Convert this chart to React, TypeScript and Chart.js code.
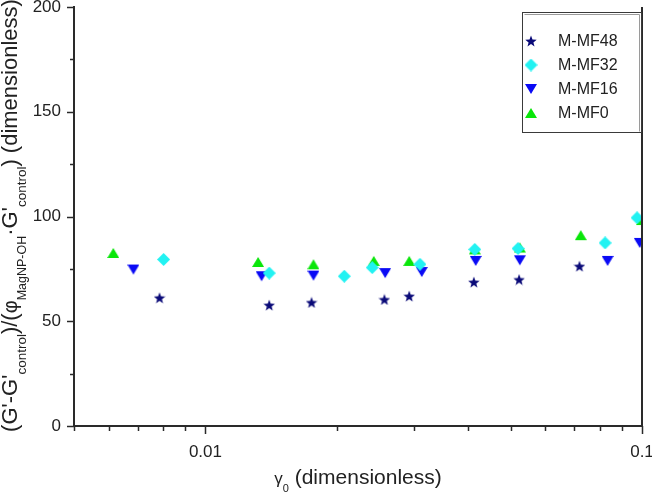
import React, { useEffect, useRef } from 'react';
import { Chart, registerables } from 'chart.js';

Chart.register(...registerables);

// ---------- data ----------
const seriesLabels = ['M-MF48', 'M-MF32', 'M-MF16', 'M-MF0'];

const mf48X = [0.00785, 0.014, 0.0175, 0.0257, 0.0293, 0.0412, 0.0523, 0.0719];
const mf48Y = [61.2, 57.7, 59.0, 60.4, 62.0, 68.7, 69.9, 76.3];

const mf32X = [0.00802, 0.014, 0.0208, 0.0241, 0.031, 0.0414, 0.052, 0.0823, 0.0974];
const mf32Y = [79.5, 73.0, 71.5, 75.6, 77.2, 84.3, 84.7, 87.4, 99.4];

const mf16X = [0.00684, 0.01345, 0.01768, 0.0258, 0.0313, 0.0416, 0.0525, 0.0834, 0.0988];
const mf16Y = [74.7, 71.5, 71.8, 73.0, 73.5, 78.8, 79.1, 78.8, 87.4];

const mf0X = [0.00615, 0.0132, 0.01768, 0.0243, 0.0293, 0.0414, 0.0525, 0.0724, 0.1];
const mf0Y = [82.6, 78.3, 77.2, 78.8, 78.8, 84.3, 85.2, 91.1, 98.3];

const xMajorTicks = [0.01, 0.1];
const xTickLabels = ['0.01', '0.1'];
const xMinorTicks = [0.005, 0.006, 0.007, 0.008, 0.009, 0.02, 0.03, 0.04, 0.05, 0.06, 0.07, 0.08, 0.09];
const yMajorTicks = [0, 50, 100, 150, 200];
const yTickLabels = ['0', '50', '100', '150', '200'];
const yMinorTicks = [25, 75, 125, 175];

const X_MIN = 0.005;
const X_MAX = 0.1;
const Y_MIN = 0;
const Y_MAX = 200;

// ---------- style ----------
const FONT = '"Liberation Sans", Arial, sans-serif';
const AXIS_COLOR = '#2a2a2a';
const TEXT_COLOR = '#222222';

function makeMarker(kind: string, color: string, size: number): HTMLCanvasElement {
  const c = document.createElement('canvas');
  c.width = size;
  c.height = size;
  const g = c.getContext('2d')!;
  g.fillStyle = color;
  const s = size / 2;
  g.beginPath();
  if (kind === 'star') {
    const outer = size / 2;
    const inner = outer * 0.42;
    for (let i = 0; i < 10; i++) {
      const r = i % 2 === 0 ? outer : inner;
      const a = -Math.PI / 2 + (i * Math.PI) / 5;
      const px = s + r * Math.cos(a);
      const py = s + 0.6 + r * Math.sin(a);
      if (i === 0) g.moveTo(px, py);
      else g.lineTo(px, py);
    }
  } else if (kind === 'diamond') {
    g.moveTo(s, 0);
    g.lineTo(size, s);
    g.lineTo(s, size);
    g.lineTo(0, s);
  } else if (kind === 'down') {
    g.moveTo(0, 1);
    g.lineTo(size, 1);
    g.lineTo(s, size - 1);
  } else {
    g.moveTo(s, 1);
    g.lineTo(size, size - 1);
    g.lineTo(0, size - 1);
  }
  g.closePath();
  g.fill();
  return c;
}

function toPoints(xs: number[], ys: number[]) {
  return xs.map((x, i) => ({ x, y: ys[i] }));
}

const axesPlugin = {
  id: 'originAxes',
  afterDraw(chart: any) {
    const { ctx, chartArea } = chart;
    const xs = chart.scales.x;
    const ys = chart.scales.y;
    ctx.save();
    ctx.strokeStyle = AXIS_COLOR;
    ctx.lineWidth = 1.5;
    const yt = (v: number, len: number) => {
      const py = Math.round(ys.getPixelForValue(v)) + 0.5;
      ctx.beginPath();
      ctx.moveTo(chartArea.left - len, py);
      ctx.lineTo(chartArea.left, py);
      ctx.stroke();
    };
    yMajorTicks.forEach((v) => yt(v, 7));
    yMinorTicks.forEach((v) => yt(v, 4));
    const xt = (v: number, len: number) => {
      const px = Math.round(xs.getPixelForValue(v)) + 0.5;
      ctx.beginPath();
      ctx.moveTo(px, chartArea.bottom);
      ctx.lineTo(px, chartArea.bottom + len);
      ctx.stroke();
    };
    xMajorTicks.forEach((v) => xt(v, 8));
    xMinorTicks.forEach((v) => xt(v, 5));
    // right frame line
    ctx.lineWidth = 2;
    ctx.beginPath();
    ctx.moveTo(chartArea.right, chartArea.top);
    ctx.lineTo(chartArea.right, chartArea.bottom);
    ctx.stroke();

    // ---- x title: γ0 (dimensionless)
    ctx.fillStyle = TEXT_COLOR;
    ctx.textBaseline = 'alphabetic';
    ctx.textAlign = 'left';
    const xSegs = [
      { t: 'γ', f: `17px ${FONT}`, dy: 0 },
      { t: '0', f: `11px ${FONT}`, dy: 8 },
      { t: ' (dimensionless)', f: `21px ${FONT}`, dy: 0 },
    ];
    let tw = 0;
    xSegs.forEach((s) => {
      ctx.font = s.f;
      tw += ctx.measureText(s.t).width;
    });
    let cx = (chartArea.left + chartArea.right) / 2 - tw / 2;
    const xBase = 484;
    xSegs.forEach((s) => {
      ctx.font = s.f;
      ctx.fillText(s.t, cx, xBase + s.dy);
      cx += ctx.measureText(s.t).width;
    });

    // ---- y title (rotated)
    const ySegs = [
      { t: "(G'-G'", f: `22px ${FONT}`, dy: 0 },
      { t: 'control', f: `13.5px ${FONT}`, dy: 9 },
      { t: ')/(', f: `22px ${FONT}`, dy: 0 },
      { t: 'φ', f: `20px ${FONT}`, dy: 0 },
      { t: 'MagNP-OH', f: `12.5px ${FONT}`, dy: 9 },
      { t: "·G'", f: `22px ${FONT}`, dy: 0 },
      { t: 'control', f: `13.5px ${FONT}`, dy: 9 },
      { t: ') (dimensionless)', f: `22px ${FONT}`, dy: 0 },
    ];
    let th = 0;
    ySegs.forEach((s) => {
      ctx.font = s.f;
      th += ctx.measureText(s.t).width;
    });
    ctx.translate(17, (chartArea.top + chartArea.bottom) / 2 - 1);
    ctx.rotate(-Math.PI / 2);
    let cy = -th / 2;
    ySegs.forEach((s) => {
      ctx.font = s.f;
      ctx.fillText(s.t, cy, s.dy);
      cy += ctx.measureText(s.t).width;
    });
    ctx.restore();

    // ---- legend
    ctx.save();
    const L = 522, T = 12, R = 642, B = 133;
    ctx.fillStyle = '#ffffff';
    ctx.fillRect(L, T, R - L, B - T);
    ctx.strokeStyle = '#3a3a3a';
    ctx.lineWidth = 1;
    ctx.strokeRect(L + 0.5, T + 0.5, R - L - 1, B - T - 1);
    ctx.strokeStyle = '#9a9a9a';
    ctx.beginPath();
    ctx.moveTo(L + 2.5, T + 2.5);
    ctx.lineTo(R - 2.5, T + 2.5);
    ctx.lineTo(R - 2.5, B - 1.5);
    ctx.stroke();
    ctx.font = `16px ${FONT}`;
    ctx.fillStyle = TEXT_COLOR;
    ctx.textBaseline = 'middle';
    ctx.textAlign = 'left';
    chart.data.datasets.forEach((ds: any, i: number) => {
      const rowY = 41 + i * 24;
      const img = ds.pointStyle as HTMLCanvasElement;
      ctx.drawImage(img, 531 - img.width / 2, rowY - img.height / 2);
      ctx.fillText(ds.label, 558, rowY + 1);
    });
    ctx.restore();
  },
};

export default function App() {
  const ref = useRef<HTMLCanvasElement | null>(null);

  useEffect(() => {
    if (!ref.current) return;
    const star = makeMarker('star', '#0a0a78', 12);
    const diamond = makeMarker('diamond', '#22f2f2', 13);
    const down = makeMarker('down', '#0a0af5', 12);
    const up = makeMarker('up', '#0ae60a', 12);

    const chart = new Chart(ref.current, {
      type: 'scatter',
      data: {
        datasets: [
          { label: seriesLabels[0], data: toPoints(mf48X, mf48Y), pointStyle: star as any, backgroundColor: '#0a0a78' },
          { label: seriesLabels[1], data: toPoints(mf32X, mf32Y), pointStyle: diamond as any, backgroundColor: '#22f2f2' },
          { label: seriesLabels[2], data: toPoints(mf16X, mf16Y), pointStyle: down as any, backgroundColor: '#0a0af5' },
          { label: seriesLabels[3], data: toPoints(mf0X, mf0Y), pointStyle: up as any, backgroundColor: '#0ae60a' },
        ],
      },
      options: {
        animation: false,
        responsive: false,
        events: [],
        layout: { padding: { top: 7, right: 10, left: 0, bottom: 0 } },
        plugins: {
          legend: { display: false },
          tooltip: { enabled: false },
        },
        scales: {
          x: {
            type: 'logarithmic',
            min: X_MIN,
            max: X_MAX,
            afterBuildTicks: (s: any) => {
              s.ticks = xMajorTicks.map((v) => ({ value: v }));
            },
            afterFit: (s: any) => {
              s.height = 70;
              s.paddingLeft = 0;
              s.paddingRight = 0;
            },
            grid: { display: false, drawTicks: false },
            border: { display: true, color: AXIS_COLOR, width: 2 },
            ticks: {
              autoSkip: false,
              maxRotation: 0,
              padding: 16,
              color: TEXT_COLOR,
              font: { family: FONT, size: 17 },
              callback: (v: any) => {
                const i = xMajorTicks.findIndex((m) => Math.abs(m - Number(v)) < 1e-9);
                return i >= 0 ? xTickLabels[i] : '';
              },
            },
          },
          y: {
            min: Y_MIN,
            max: Y_MAX,
            afterBuildTicks: (s: any) => {
              s.ticks = yMajorTicks.map((v) => ({ value: v }));
            },
            afterFit: (s: any) => {
              s.width = 74;
              s.paddingTop = 0;
              s.paddingBottom = 0;
            },
            grid: { display: false, drawTicks: false },
            border: { display: true, color: AXIS_COLOR, width: 2 },
            ticks: {
              padding: 13,
              color: TEXT_COLOR,
              font: { family: FONT, size: 17 },
              callback: (v: any) => {
                const i = yMajorTicks.indexOf(Number(v));
                return i >= 0 ? yTickLabels[i] : '';
              },
            },
          },
        },
      },
      plugins: [axesPlugin],
    } as any);
    return () => chart.destroy();
  }, []);

  return (
    <div style={{ position: 'absolute', left: 0, top: 0, width: 652, height: 496, background: '#fff' }}>
      <canvas ref={ref} width={652} height={496} style={{ display: 'block' }} />
    </div>
  );
}
